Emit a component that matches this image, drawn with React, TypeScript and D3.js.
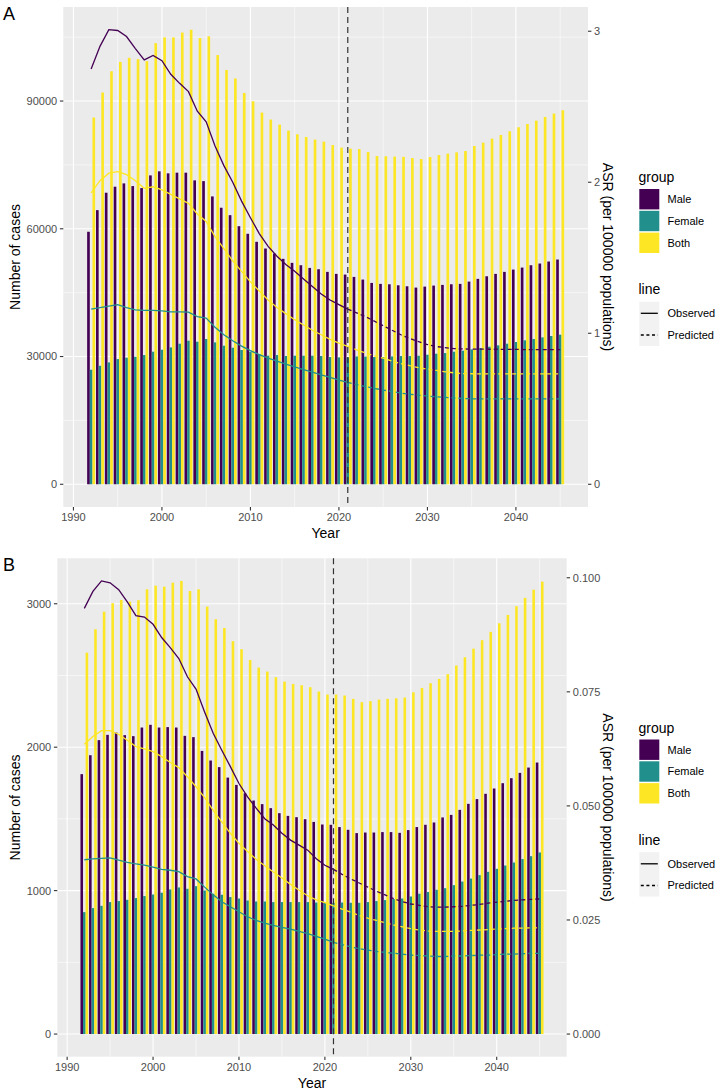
import { useEffect, useRef } from 'react';
import { select, scaleLinear, line, max, format } from 'd3';

const width = 720;
const height = 1091;
const FONT = "'Liberation Sans', Arial, Helvetica, sans-serif";

const groupNames = ['Male', 'Female', 'Both'];
const groupColors = { Male: '#440154', Female: '#21908C', Both: '#FDE725' };
const cutYear = 2021;

const years = [
  1992, 1993, 1994, 1995, 1996, 1997, 1998, 1999, 2000, 2001,
  2002, 2003, 2004, 2005, 2006, 2007, 2008, 2009, 2010, 2011,
  2012, 2013, 2014, 2015, 2016, 2017, 2018, 2019, 2020, 2021,
  2022, 2023, 2024, 2025, 2026, 2027, 2028, 2029, 2030, 2031,
  2032, 2033, 2034, 2035, 2036, 2037, 2038, 2039, 2040, 2041,
  2042, 2043, 2044, 2045,
];

// ---- panel A : number of cases ----
const casesMaleA = [
  59300, 64380, 68470, 69880, 70660, 70030, 69560, 72540, 73490, 73020,
  73180, 73180, 71370, 71200, 67600, 64940, 63200, 60610, 58830, 56940,
  55370, 54190, 52940, 52000, 51440, 50810, 50500, 49880, 49410, 49250,
  48700, 48070, 47290, 47060, 46970, 46730, 46500, 46190, 46420, 46660,
  46820, 46970, 47060, 47600, 48240, 48850, 49410, 49880, 50420, 50890,
  51440, 51840, 52310, 52780,
];
const casesFemaleA = [
  26900, 27830, 28620, 29400, 29720, 29950, 30350, 31130, 31600, 32140,
  33010, 33720, 33480, 34120, 33320, 32540, 32070, 31530, 31130, 30590,
  30190, 30350, 30120, 30190, 30190, 30190, 30120, 29880, 29800, 29800,
  30030, 30000, 29880, 29880, 30030, 30110, 30110, 30190, 30430, 30660,
  30820, 31130, 31370, 31680, 32000, 32310, 32620, 33010, 33410, 33800,
  34120, 34500, 34820, 35130,
];
const casesBothA = [
  86120, 92000, 97000, 99200, 100150, 99840, 99370, 103600, 104950, 104950,
  106100, 106750, 104800, 105200, 100800, 97300, 95300, 91900, 89950, 87300,
  85650, 84470, 83060, 82200, 81560, 80940, 80470, 79670, 79060, 78830,
  78730, 78030, 77090, 77040, 76950, 76900, 76620, 76380, 76850, 77320,
  77650, 77960, 78260, 79440, 80230, 81170, 82030, 82900, 83840, 84610,
  85410, 86260, 87060, 87840,
];

// ---- panel A : ASR ----
const asrMaleA = [
  2.75, 2.9, 3.01, 3.005, 2.965, 2.885, 2.81, 2.84, 2.805, 2.715,
  2.655, 2.6, 2.47, 2.4, 2.24, 2.11, 2.0, 1.875, 1.765, 1.66,
  1.575, 1.51, 1.455, 1.41, 1.36, 1.31, 1.26, 1.22, 1.19, 1.16,
  1.135, 1.11, 1.08, 1.05, 1.02, 0.99, 0.965, 0.945, 0.925, 0.912,
  0.905, 0.898, 0.896, 0.895, 0.895, 0.894, 0.894, 0.893, 0.893, 0.892,
  0.892, 0.892, 0.891, 0.891,
];
const asrFemaleA = [
  1.16, 1.17, 1.18, 1.19, 1.17, 1.155, 1.152, 1.152, 1.148, 1.142,
  1.142, 1.14, 1.11, 1.1, 1.04, 0.99, 0.95, 0.915, 0.885, 0.858,
  0.835, 0.815, 0.795, 0.778, 0.76, 0.742, 0.725, 0.708, 0.69, 0.675,
  0.66, 0.647, 0.635, 0.624, 0.614, 0.604, 0.596, 0.59, 0.584, 0.579,
  0.575, 0.571, 0.568, 0.566, 0.565, 0.565, 0.565, 0.565, 0.565, 0.565,
  0.565, 0.565, 0.565, 0.565,
];
const asrBothA = [
  1.93, 2.01, 2.06, 2.07, 2.05, 2.01, 1.96, 1.97, 1.95, 1.92,
  1.89, 1.86, 1.79, 1.74, 1.64, 1.56, 1.48, 1.41, 1.34, 1.28,
  1.22, 1.17, 1.13, 1.09, 1.055, 1.02, 0.99, 0.96, 0.935, 0.913,
  0.89, 0.87, 0.85, 0.835, 0.815, 0.8, 0.785, 0.772, 0.762, 0.754,
  0.745, 0.738, 0.733, 0.732, 0.731, 0.731, 0.731, 0.731, 0.731, 0.731,
  0.731, 0.731, 0.731, 0.731,
];

// ---- panel B : number of cases ----
const casesMaleB = [
  1812, 1944, 2049, 2086, 2102, 2084, 2077, 2137, 2156, 2137,
  2140, 2137, 2079, 2070, 1974, 1907, 1861, 1788, 1737, 1679,
  1628, 1603, 1575, 1540, 1521, 1512, 1498, 1479, 1461, 1459,
  1443, 1424, 1401, 1405, 1405, 1408, 1408, 1403, 1422, 1443,
  1459, 1475, 1510, 1528, 1563, 1605, 1638, 1675, 1712, 1749,
  1784, 1821, 1858, 1893,
];
const casesFemaleB = [
  850, 878, 894, 920, 927, 936, 948, 962, 973, 985,
  1008, 1022, 1013, 1031, 1001, 978, 971, 955, 945, 931,
  924, 924, 920, 920, 920, 920, 920, 917, 915, 915,
  917, 915, 915, 920, 927, 934, 941, 945, 959, 978,
  990, 1006, 1017, 1038, 1063, 1084, 1108, 1131, 1152, 1175,
  1196, 1220, 1240, 1266,
];
const casesBothB = [
  2659, 2822, 2945, 3004, 3027, 3015, 3025, 3101, 3126, 3119,
  3147, 3159, 3089, 3101, 2980, 2892, 2831, 2739, 2683, 2608,
  2555, 2527, 2488, 2457, 2441, 2432, 2418, 2388, 2367, 2367,
  2360, 2337, 2314, 2321, 2332, 2337, 2341, 2346, 2383, 2413,
  2446, 2476, 2509, 2569, 2627, 2687, 2746, 2804, 2864, 2922,
  2983, 3041, 3098, 3154,
];

// ---- panel B : ASR ----
const asrMaleB = [
  0.0933, 0.097, 0.0993, 0.0989, 0.0974, 0.0947, 0.0917, 0.0914, 0.0898, 0.0869,
  0.0847, 0.0823, 0.0783, 0.0756, 0.0706, 0.0659, 0.0622, 0.0586, 0.0549, 0.052,
  0.0495, 0.0472, 0.0458, 0.044, 0.0425, 0.0414, 0.0403, 0.0384, 0.037, 0.0361,
  0.035, 0.034, 0.0331, 0.0322, 0.0313, 0.0305, 0.0297, 0.029, 0.0285, 0.0282,
  0.0279, 0.0278, 0.0278, 0.0279, 0.028, 0.0282, 0.0284, 0.0287, 0.0289, 0.0291,
  0.0293, 0.0294, 0.0295, 0.0296,
];
const asrFemaleB = [
  0.0382, 0.0384, 0.0385, 0.0386, 0.0381, 0.0376, 0.0373, 0.037, 0.0366, 0.0361,
  0.0359, 0.0356, 0.0345, 0.034, 0.0322, 0.0305, 0.029, 0.0279, 0.0268, 0.0257,
  0.0249, 0.0243, 0.0238, 0.0234, 0.023, 0.0225, 0.022, 0.0214, 0.0208, 0.0201,
  0.0196, 0.0191, 0.0187, 0.0184, 0.0181, 0.0179, 0.0177, 0.0175, 0.0173, 0.0172,
  0.0171, 0.017, 0.017, 0.0171, 0.0171, 0.0172, 0.0173, 0.0173, 0.0174, 0.0175,
  0.0175, 0.0176, 0.0177, 0.0177,
];
const asrBothB = [
  0.0635, 0.0652, 0.0665, 0.0665, 0.0657, 0.0644, 0.063, 0.0625, 0.0619, 0.0608,
  0.0595, 0.0584, 0.0564, 0.0542, 0.0518, 0.049, 0.0465, 0.044, 0.0418, 0.04,
  0.0383, 0.0369, 0.0355, 0.0342, 0.0328, 0.0315, 0.0303, 0.0294, 0.0288, 0.0281,
  0.0274, 0.0267, 0.026, 0.0254, 0.0249, 0.0244, 0.0239, 0.0235, 0.0231, 0.0228,
  0.0226, 0.0225, 0.0225, 0.0225, 0.0226, 0.0227, 0.0228, 0.0229, 0.023, 0.0231,
  0.0232, 0.0232, 0.0233, 0.0233,
];

// tick labels
const yearTicks = [1990, 2000, 2010, 2020, 2030, 2040];
const casesTicksA = [0, 30000, 60000, 90000];
const asrTicksA = [0, 1, 2, 3];
const casesTicksB = [0, 1000, 2000, 3000];
const asrTicksB = [0, 0.025, 0.05, 0.075, 0.1];
const lineTypes = ['Observed', 'Predicted'];

const tickLen = 3.4;
const tickGap = 2.7;

function Panel({ tag, frame, cases, asr, casesTicks, asrTicks, asrFormat }) {
  const ref = useRef(null);

  useEffect(() => {
    const g = select(ref.current);
    g.selectAll('*').remove();
    const { left, top, right, bottom } = frame;

    // ggplot-like scales: 5% expansion, secondary axis scaled to max cases / max ASR
    const casesMax = max(groupNames, (k) => max(cases[k]));
    const asrMax = max(groupNames, (k) => max(asr[k]));
    const ratio = casesMax / asrMax;
    const x0 = years[0] - 0.45;
    const x1 = years[years.length - 1] + 0.45;
    const xPad = (x1 - x0) * 0.05;
    const x = scaleLinear().domain([x0 - xPad, x1 + xPad]).range([left, right]);
    const y = scaleLinear()
      .domain([-0.05 * casesMax, 1.05 * casesMax])
      .range([bottom, top]);
    const ySec = scaleLinear()
      .domain(y.domain().map((v) => v / ratio))
      .range([bottom, top]);

    // panel background
    g.append('rect')
      .attr('x', left)
      .attr('y', top)
      .attr('width', right - left)
      .attr('height', bottom - top)
      .attr('fill', '#EBEBEB');

    // minor grid
    const yStep = casesTicks[1] - casesTicks[0];
    const yMinor = [casesTicks[0] - yStep / 2, ...casesTicks.map((t) => t + yStep / 2)].filter(
      (t) => t >= y.domain()[0] && t <= y.domain()[1]
    );
    const xStep = yearTicks[1] - yearTicks[0];
    const xMinor = [yearTicks[0] - xStep / 2, ...yearTicks.map((t) => t + xStep / 2)].filter(
      (t) => t >= x.domain()[0] && t <= x.domain()[1]
    );
    g.selectAll('.grid-minor-y')
      .data(yMinor)
      .join('line')
      .attr('x1', left)
      .attr('x2', right)
      .attr('y1', (d) => y(d))
      .attr('y2', (d) => y(d))
      .attr('stroke', '#fff')
      .attr('stroke-width', 0.55);
    g.selectAll('.grid-minor-x')
      .data(xMinor)
      .join('line')
      .attr('y1', top)
      .attr('y2', bottom)
      .attr('x1', (d) => x(d))
      .attr('x2', (d) => x(d))
      .attr('stroke', '#fff')
      .attr('stroke-width', 0.55);

    // major grid
    g.selectAll('.grid-major-y')
      .data(casesTicks)
      .join('line')
      .attr('x1', left)
      .attr('x2', right)
      .attr('y1', (d) => y(d))
      .attr('y2', (d) => y(d))
      .attr('stroke', '#fff')
      .attr('stroke-width', 1.1);
    g.selectAll('.grid-major-x')
      .data(yearTicks)
      .join('line')
      .attr('y1', top)
      .attr('y2', bottom)
      .attr('x1', (d) => x(d))
      .attr('x2', (d) => x(d))
      .attr('stroke', '#fff')
      .attr('stroke-width', 1.1);

    // dodged bars (width 0.9 split in three)
    const barW = 0.3;
    const bars = years.flatMap((yr, i) =>
      groupNames.map((k, j) => ({ yr, k, j, v: cases[k][i] }))
    );
    g.selectAll('.bar')
      .data(bars)
      .join('rect')
      .attr('class', 'bar')
      .attr('x', (d) => x(d.yr + (d.j - 1) * barW - barW / 2))
      .attr('width', x(barW) - x(0))
      .attr('y', (d) => y(d.v))
      .attr('height', (d) => y(0) - y(d.v))
      .attr('fill', (d) => groupColors[d.k]);

    // ASR lines on the secondary axis
    const asrLine = line()
      .x((d) => x(d.yr))
      .y((d) => ySec(d.v));
    groupNames.forEach((k) => {
      const pts = years.map((yr, i) => ({ yr, v: asr[k][i] }));
      g.append('path')
        .datum(pts.filter((d) => d.yr <= cutYear))
        .attr('d', asrLine)
        .attr('fill', 'none')
        .attr('stroke', groupColors[k])
        .attr('stroke-width', 1.3);
      g.append('path')
        .datum(pts.filter((d) => d.yr >= cutYear))
        .attr('d', asrLine)
        .attr('fill', 'none')
        .attr('stroke', groupColors[k])
        .attr('stroke-width', 1.3)
        .attr('stroke-dasharray', '4,3');
    });

    // vertical split line
    g.append('line')
      .attr('x1', x(cutYear))
      .attr('x2', x(cutYear))
      .attr('y1', top)
      .attr('y2', bottom)
      .attr('stroke', '#333')
      .attr('stroke-width', 1.2)
      .attr('stroke-dasharray', '6,4');

    // left axis
    const fmtCases = format('d');
    g.selectAll('.ltick')
      .data(casesTicks)
      .join('line')
      .attr('x1', left - tickLen)
      .attr('x2', left)
      .attr('y1', (d) => y(d))
      .attr('y2', (d) => y(d))
      .attr('stroke', '#333')
      .attr('stroke-width', 1.1);
    g.selectAll('.llabel')
      .data(casesTicks)
      .join('text')
      .attr('x', left - tickLen - tickGap)
      .attr('y', (d) => y(d) + 3.9)
      .attr('text-anchor', 'end')
      .attr('font-size', 11)
      .attr('fill', '#4D4D4D')
      .text((d) => fmtCases(d));

    // right axis
    g.selectAll('.rtick')
      .data(asrTicks)
      .join('line')
      .attr('x1', right)
      .attr('x2', right + tickLen)
      .attr('y1', (d) => ySec(d))
      .attr('y2', (d) => ySec(d))
      .attr('stroke', '#333')
      .attr('stroke-width', 1.1);
    g.selectAll('.rlabel')
      .data(asrTicks)
      .join('text')
      .attr('x', right + tickLen + tickGap)
      .attr('y', (d) => ySec(d) + 3.9)
      .attr('font-size', 11)
      .attr('fill', '#4D4D4D')
      .text((d) => format(asrFormat)(d));

    // bottom axis
    g.selectAll('.btick')
      .data(yearTicks)
      .join('line')
      .attr('x1', (d) => x(d))
      .attr('x2', (d) => x(d))
      .attr('y1', bottom)
      .attr('y2', bottom + tickLen)
      .attr('stroke', '#333')
      .attr('stroke-width', 1.1);
    g.selectAll('.blabel')
      .data(yearTicks)
      .join('text')
      .attr('x', (d) => x(d))
      .attr('y', bottom + 13.8)
      .attr('text-anchor', 'middle')
      .attr('font-size', 11)
      .attr('fill', '#4D4D4D')
      .text((d) => d);

    // axis titles
    const cy = (top + bottom) / 2;
    g.append('text')
      .attr('x', (left + right) / 2)
      .attr('y', bottom + 31)
      .attr('text-anchor', 'middle')
      .attr('font-size', 14)
      .text('Year');
    g.append('text')
      .attr('transform', `translate(20,${cy}) rotate(-90)`)
      .attr('text-anchor', 'middle')
      .attr('font-size', 14)
      .text('Number of cases');
    g.append('text')
      .attr('transform', `translate(603,${cy}) rotate(90)`)
      .attr('text-anchor', 'middle')
      .attr('font-size', 14)
      .text('ASR (per 100000 populations)');

    // tag
    g.append('text')
      .attr('x', 3)
      .attr('y', top + 13)
      .attr('font-size', 18)
      .text(tag);

    // legend: group
    const lx = 639.3;
    g.append('text')
      .attr('x', lx - 0.8)
      .attr('y', cy - 75)
      .attr('font-size', 14)
      .text('group');
    groupNames.forEach((k, i) => {
      const ky = cy - 68 + i * 21.8;
      g.append('rect')
        .attr('x', lx)
        .attr('y', ky)
        .attr('width', 20)
        .attr('height', 20.4)
        .attr('fill', groupColors[k]);
      g.append('text')
        .attr('x', 667.5)
        .attr('y', ky + 10.2 + 3.9)
        .attr('font-size', 11)
        .text(k);
    });

    // legend: line
    g.append('text')
      .attr('x', lx - 0.8)
      .attr('y', cy + 37)
      .attr('font-size', 14)
      .text('line');
    g.append('rect')
      .attr('x', lx)
      .attr('y', cy + 44.7)
      .attr('width', 20)
      .attr('height', 44.3)
      .attr('fill', '#F2F2F2');
    lineTypes.forEach((t, i) => {
      const ky = cy + 56.3 + i * 21.7;
      g.append('line')
        .attr('x1', lx + 1.5)
        .attr('x2', lx + 18.5)
        .attr('y1', ky)
        .attr('y2', ky)
        .attr('stroke', '#000')
        .attr('stroke-width', 1.3)
        .attr('stroke-dasharray', t === 'Predicted' ? '3,2.6' : null);
      g.append('text')
        .attr('x', 667.5)
        .attr('y', ky + 3.9)
        .attr('font-size', 11)
        .text(t);
    });
  }, []);

  return <g ref={ref} />;
}

export default function App() {
  return (
    <svg
      width={width}
      height={height}
      style={{ position: 'absolute', left: 0, top: 0, background: '#fff' }}
      fontFamily={FONT}
    >
      <rect width={width} height={height} fill="#fff" />
      <Panel
        tag="A"
        frame={{ left: 63.3, top: 7, right: 588, bottom: 507 }}
        cases={{ Male: casesMaleA, Female: casesFemaleA, Both: casesBothA }}
        asr={{ Male: asrMaleA, Female: asrFemaleA, Both: asrBothA }}
        casesTicks={casesTicksA}
        asrTicks={asrTicksA}
        asrFormat="d"
      />
      <Panel
        tag="B"
        frame={{ left: 57.3, top: 558.3, right: 566.7, bottom: 1056.7 }}
        cases={{ Male: casesMaleB, Female: casesFemaleB, Both: casesBothB }}
        asr={{ Male: asrMaleB, Female: asrFemaleB, Both: asrBothB }}
        casesTicks={casesTicksB}
        asrTicks={asrTicksB}
        asrFormat=".3f"
      />
    </svg>
  );
}
